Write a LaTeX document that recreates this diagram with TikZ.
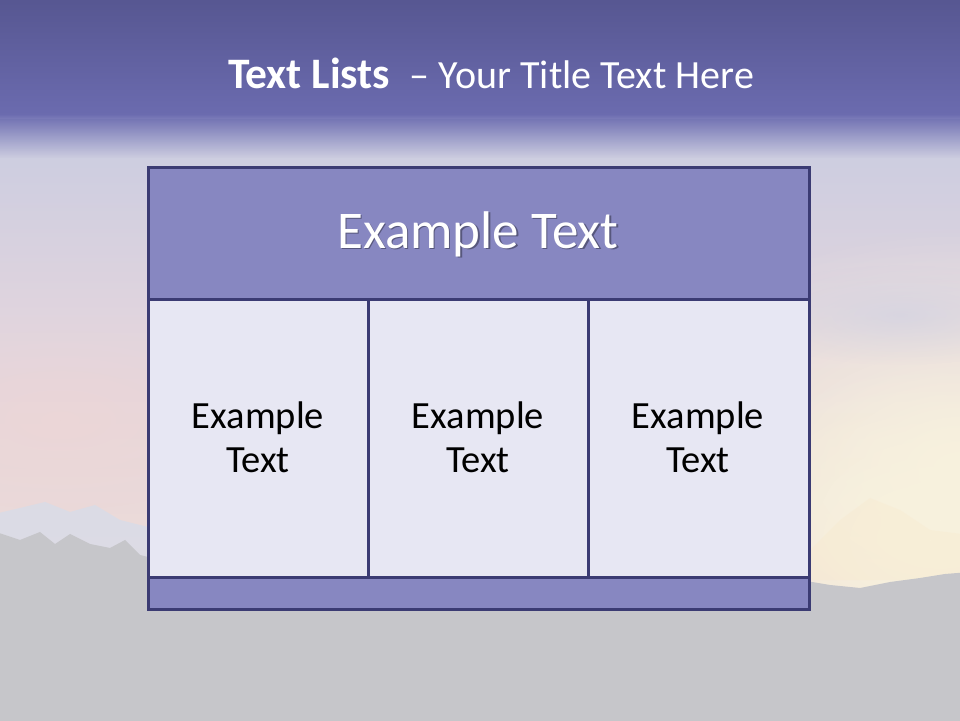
\documentclass[tikz,border=0pt]{standalone}
\usepackage{fontspec}
\setmainfont{Carlito}
\usetikzlibrary{fadings}
\definecolor{bandtop}{HTML}{55558F}
\definecolor{bandbot}{HTML}{6B6BAF}
\definecolor{skytop}{HTML}{C9CCE1}
\definecolor{skymid}{HTML}{E3D5DD}
\definecolor{skylow}{HTML}{EDDBD8}
\definecolor{cream}{HTML}{F8F2DE}
\definecolor{cloud}{HTML}{D2D2E2}
\definecolor{ground}{HTML}{C6C6CA}
\definecolor{snow}{HTML}{D8DCE8}
\definecolor{frame}{HTML}{3B3B73}
\definecolor{headfill}{HTML}{8787C1}
\definecolor{cellfill}{HTML}{E7E7F3}
\tikzfading[name=fadedown, top color=transparent!0, bottom color=transparent!100]
\tikzfading[name=fadeout, inner color=transparent!0, outer color=transparent!100]
\tikzset{
  tablebox/.style={draw=frame, line width=3pt, line join=miter},
  headtext/.style={text=white, font=\fontsize{53}{60}\selectfont, anchor=base},
  celltext/.style={text=black, font=\fontsize{38.5}{44}\selectfont, align=center, anchor=center},
  titletext/.style={text=white, anchor=base},
}
\begin{document}
\begin{tikzpicture}[x=1pt,y=1pt]
\useasboundingbox (0,0) rectangle (960,720);
\begin{scope}
\clip (0,0) rectangle (960,720);
% sky
\shade[top color=skytop, bottom color=skylow, middle color=skymid] (-10,150) rectangle (970,600);
\fill[skylow] (-10,-10) rectangle (970,150);
% right cream glow
\fill[cream, path fading=fadeout] (960,250) ellipse (360 and 240);
\fill[cream, path fading=fadeout] (940,200) ellipse (240 and 160);
\fill[cream, path fading=fadeout] (930,180) ellipse (160 and 110);
% right bluish cloud
\fill[cloud, opacity=0.7, path fading=fadeout] (900,405) ellipse (160 and 50);
% left pinkish band
\fill[skylow!80!pink, opacity=0.5, path fading=fadeout] (60,300) ellipse (200 and 90);
% snowy peaks left
\fill[snow, opacity=0.8] (-10,205) -- (20,212) -- (45,218) -- (70,208) -- (95,215) -- (120,200) -- (140,195) -- (160,190) -- (160,150) -- (-10,150) -- cycle;
% faint cream peaks right
\fill[cream!90!orange, opacity=0.25] (810,170) -- (840,200) -- (870,222) -- (900,210) -- (930,190) -- (970,185) -- (970,140) -- (810,140) -- cycle;
% ground / mountains silhouette
\fill[ground] (-10,190) -- (20,180) -- (40,188) -- (55,176) -- (70,186) -- (90,176) -- (110,172) -- (125,180) -- (140,165) -- (160,160)
  -- (800,140) -- (830,135) -- (860,132) -- (890,138) -- (920,142) -- (945,146) -- (970,148) -- (970,-10) -- (-10,-10) -- cycle;
% top purple band
\shade[top color=bandtop, bottom color=bandbot] (-10,605) rectangle (970,730);
\fill[bandbot, path fading=fadedown] (-10,562) rectangle (970,606);
\end{scope}
% title
\node[titletext] (title) at (491,631) {\fontsize{43.5}{50}\selectfont\textbf{Text Lists}\ \ \fontsize{40}{50}\selectfont– Your Title Text Here};
% table
\filldraw[tablebox, fill=headfill] (148,420) rectangle (809,552);
\node[headtext, text=black, opacity=0.35] at (479.5,470) {Example Text};
\node[headtext] (head) at (478,471.5) {Example Text};
\filldraw[tablebox, fill=cellfill] (148,143) rectangle (368,420);
\filldraw[tablebox, fill=cellfill] (368,143) rectangle (588,420);
\filldraw[tablebox, fill=cellfill] (588,143) rectangle (809,420);
\filldraw[tablebox, fill=headfill] (148,111) rectangle (809,143);
\node[celltext] (c1) at (258,283) {Example\\Text};
\node[celltext] (c2) at (478,283) {Example\\Text};
\node[celltext] (c3) at (698,283) {Example\\Text};
\end{tikzpicture}
\end{document}
